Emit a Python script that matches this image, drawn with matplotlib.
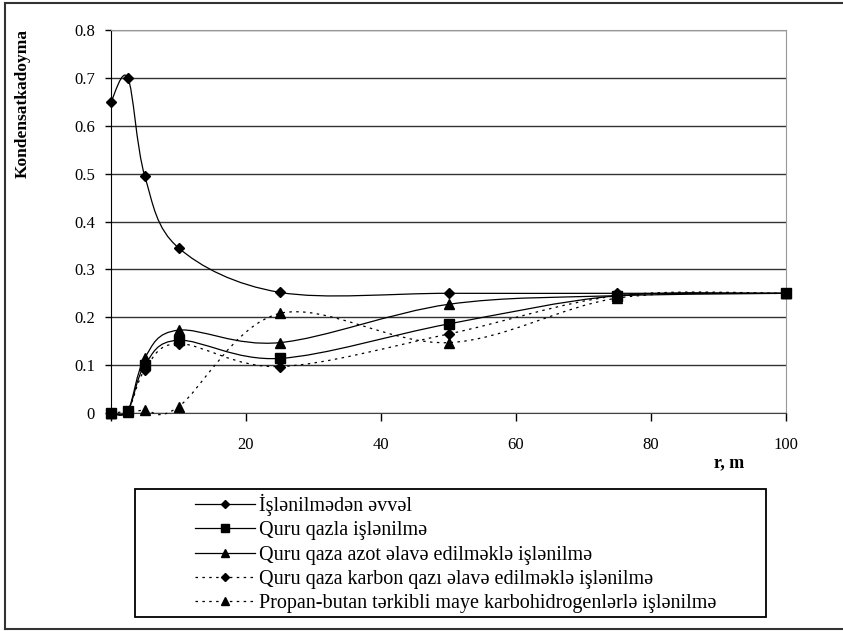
import numpy as np
import matplotlib
matplotlib.use('Agg')
import matplotlib.pyplot as plt
from matplotlib.path import Path
from matplotlib.patches import PathPatch, Rectangle
from matplotlib.lines import Line2D

serif = ['Liberation Serif', 'DejaVu Serif']
plt.rcParams['font.family'] = serif

# distance from well, m
r = [0, 2.5, 5, 10, 25, 50, 75, 100]

before = [0.65, 0.70, 0.495, 0.345, 0.252, 0.25, 0.25, 0.25]
dry_gas = [0.0, 0.005, 0.10, 0.152, 0.114, 0.186, 0.245, 0.25]
dry_gas_n2 = [0.0, 0.005, 0.115, 0.173, 0.147, 0.227, 0.245, 0.25]
dry_gas_co2 = [0.0, 0.005, 0.09, 0.145, 0.097, 0.165, 0.245, 0.25]
propane_butane = [0.0, 0.003, 0.006, 0.013, 0.208, 0.147, 0.24, 0.25]

labels = ['İşlənilmədən əvvəl',
          'Quru qazla işlənilmə',
          'Quru qaza azot əlavə edilməklə işlənilmə',
          'Quru qaza karbon qazı əlavə edilməklə işlənilmə',
          'Propan-butan tərkibli maye karbohidrogenlərlə işlənilmə']


def smooth_path(x, y):
    # excel-like smoothed line: cubic bezier through the points
    p = np.column_stack([x, y]).astype(float)
    ext = np.vstack([p[0], p, p[-1]])
    verts = [p[0]]
    codes = [Path.MOVETO]
    for i in range(len(p) - 1):
        p0, p1, p2, p3 = ext[i], ext[i + 1], ext[i + 2], ext[i + 3]
        verts += [p1 + (p2 - p0) / 6.0, p2 - (p3 - p1) / 6.0, p2]
        codes += [Path.CURVE4] * 3
    return Path(verts, codes)


fig = plt.figure(figsize=(8.43, 6.31), dpi=100)
ax = fig.add_axes([111 / 843, 1 - 413 / 631, 675 / 843, 383 / 631])

dotted = (0, (2.0, 3.5))
series = [
    (before, 'D', 5.5, '-'),
    (dry_gas, 's', 6.5, '-'),
    (dry_gas_n2, '^', 7, '-'),
    (dry_gas_co2, 'D', 5.5, dotted),
    (propane_butane, '^', 7, dotted),
]

handles = []
for (vals, mk, ms, ls), lab in zip(series, labels):
    patch = PathPatch(smooth_path(r, vals), facecolor='none', edgecolor='black',
                      lw=0.9, linestyle=ls, clip_on=False, zorder=3)
    ax.add_patch(patch)
    ax.plot(r, vals, linestyle='none', marker=mk, ms=ms, color='black',
            clip_on=False, zorder=4)
    handles.append(Line2D([], [], color='black', lw=0.9, linestyle=ls,
                          marker=mk, ms=ms * 0.8))

ax.set_xlim(0, 100)
ax.set_ylim(0, 0.8)
ax.set_xticks([0, 20, 40, 60, 80, 100])
ax.set_xticklabels(['', '20', '40', '60', '80', '100'], family=serif)
ax.set_yticks(np.arange(0, 0.81, 0.1))
ax.set_yticklabels(['0', '0.1', '0.2', '0.3', '0.4', '0.5', '0.6', '0.7', '0.8'],
                   family=serif)
ax.tick_params(axis='both', direction='out', width=1, labelsize=12,
               colors='black')
ax.tick_params(axis='x', length=6, pad=11)
ax.tick_params(axis='y', length=4.5, pad=7)

ax.yaxis.grid(True, color='#333333', lw=1)
ax.set_axisbelow(True)
ax.spines['left'].set_color('black')
ax.spines['bottom'].set_color('#444444')
ax.spines['top'].set_color('#999999')
ax.spines['right'].set_color('#999999')

fig.text(23 / 843, 1 - 104 / 631, 'Kondensatkadoyma', rotation=90,
         ha='center', va='center', fontsize=12.5, fontweight='bold',
         family=serif)
fig.text(729 / 843, 1 - 463 / 631, 'r, m', ha='center', va='center',
         fontsize=13, fontweight='bold', family=serif)

# legend box drawn separately, entries placed inside it
fig.add_artist(Rectangle((135 / 843, 1 - 617 / 631), 631 / 843, 128 / 631,
                         transform=fig.transFigure, facecolor='white',
                         edgecolor='black', lw=1.3, zorder=5))
leg = fig.legend(handles, labels, loc='upper left',
                 bbox_to_anchor=(195 / 843, 1 - 494 / 631),
                 prop={'family': serif, 'size': 14.5},
                 handlelength=3.0, handletextpad=0.2,
                 labelspacing=0.26, borderpad=0, borderaxespad=0,
                 frameon=False)
leg.set_zorder(6)

# outer chart frame
for xs, ys in [((5, 843), (3, 3)), ((5, 5), (3, 629)), ((5, 843), (629, 629))]:
    fig.add_artist(Line2D([x / 843 for x in xs], [1 - y / 631 for y in ys],
                          color='#333333', lw=1.5))

fig.savefig('out.png', dpi=100)
